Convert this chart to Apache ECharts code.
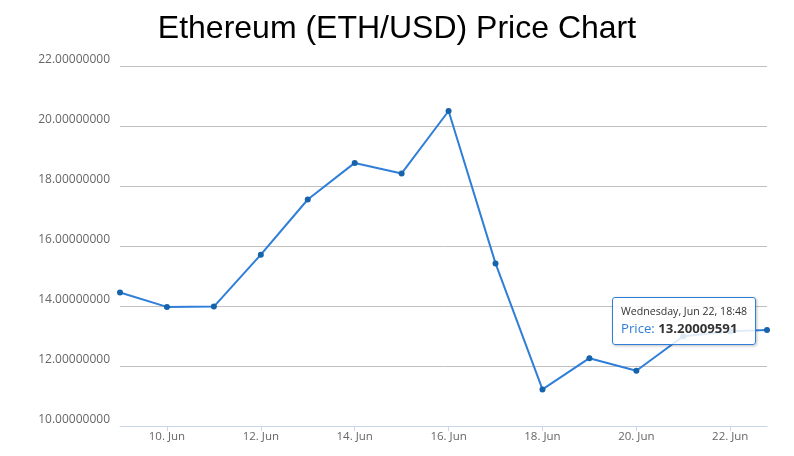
<!DOCTYPE html>
<html>
<head>
<meta charset="utf-8">
<script src="https://cdn.jsdelivr.net/npm/echarts@6/dist/echarts.min.js"></script>
<style>
html,body{margin:0;padding:0;background:#fff;}
#chart{width:794px;height:456px;}
</style>
</head>
<body>
<div id="chart"></div>
<script>
var titleText = 'Ethereum (ETH/USD) Price Chart';
var seriesName = 'Price';
var dates = ['2016-06-09T00:00:00Z','2016-06-10T00:00:00Z','2016-06-11T00:00:00Z','2016-06-12T00:00:00Z',
  '2016-06-13T00:00:00Z','2016-06-14T00:00:00Z','2016-06-15T00:00:00Z','2016-06-16T00:00:00Z',
  '2016-06-17T00:00:00Z','2016-06-18T00:00:00Z','2016-06-19T00:00:00Z','2016-06-20T00:00:00Z',
  '2016-06-21T00:00:00Z','2016-06-22T00:00:00Z','2016-06-22T18:48:00Z'];
var prices = [14.45, 13.97, 13.98, 15.71, 17.55, 18.77, 18.42, 20.5, 15.42, 11.22, 12.26, 11.84, 12.99, 13.16, 13.20009591];
var tickDates = ['2016-06-10T00:00:00Z','2016-06-12T00:00:00Z','2016-06-14T00:00:00Z','2016-06-16T00:00:00Z',
  '2016-06-18T00:00:00Z','2016-06-20T00:00:00Z','2016-06-22T00:00:00Z'];
var tickLabels = ['10. Jun','12. Jun','14. Jun','16. Jun','18. Jun','20. Jun','22. Jun'];
var yMin = 10, yMax = 22, yStep = 2;

var dayNames = ['Sunday','Monday','Tuesday','Wednesday','Thursday','Friday','Saturday'];
var monNames = ['Jan','Feb','Mar','Apr','May','Jun','Jul','Aug','Sep','Oct','Nov','Dec'];
function pad(n){return (n<10?'0':'')+n;}

var tickTs = tickDates.map(function(d){return Date.parse(d);});
var data = dates.map(function(d,i){return [Date.parse(d), prices[i]];});

var chart = echarts.init(document.getElementById('chart'));
chart.setOption({
  animation: false,
  backgroundColor: '#ffffff',
  title: {
    text: titleText,
    left: 'center',
    top: 8,
    textStyle: {fontFamily: 'Liberation Sans, Arial, sans-serif', fontSize: 32, fontWeight: 'normal', color: '#000'}
  },
  grid: {left: 120, right: 27, top: 66, bottom: 30, containLabel: false},
  tooltip: {
    trigger: 'item',
    alwaysShowContent: true,
    transitionDuration: 0,
    backgroundColor: 'rgba(255,255,255,0.85)',
    borderColor: '#2f7ed8',
    borderWidth: 1,
    borderRadius: 3,
    padding: [6, 8],
    extraCssText: 'box-shadow: 1px 1px 3px rgba(0,0,0,0.25);',
    position: function(){ return [612, 297]; },
    formatter: function(p){
      var d = new Date(p.value[0]);
      var head = dayNames[d.getUTCDay()] + ', ' + monNames[d.getUTCMonth()] + ' ' + d.getUTCDate() + ', ' + pad(d.getUTCHours()) + ':' + pad(d.getUTCMinutes());
      return '<div style="font-family:Open Sans,sans-serif;font-size:10.6px;color:#333;line-height:15px">' + head + '</div>' +
        '<div style="font-family:Open Sans,sans-serif;font-size:13.2px;line-height:19px;color:#333"><span style="color:#2f7ed8">' + p.seriesName + ':</span> <b>' + p.value[1].toFixed(8) + '</b></div>';
    }
  },
  xAxis: {
    type: 'value',
    min: data[0][0],
    max: data[data.length-1][0],
    axisLine: {show: true, lineStyle: {color: '#ccd6eb', width: 1}},
    axisTick: {show: true, customValues: tickTs, length: 5, lineStyle: {color: '#ccd6eb'}},
    axisLabel: {
      customValues: tickTs,
      color: '#666',
      fontSize: 11.5,
      fontFamily: 'Open Sans, sans-serif',
      margin: 5,
      formatter: function(v){ var i = tickTs.indexOf(v); return i >= 0 ? tickLabels[i] : ''; }
    },
    splitLine: {show: false}
  },
  yAxis: {
    type: 'value',
    min: yMin, max: yMax, interval: yStep,
    axisLine: {show: false},
    axisTick: {show: false},
    axisLabel: {
      color: '#666', fontSize: 12, fontFamily: 'Open Sans, sans-serif', margin: 10,
      verticalAlign: 'bottom', lineHeight: 12,
      formatter: function(v){ return v.toFixed(8); }
    },
    splitLine: {lineStyle: {color: '#c0c0c0', width: 1}}
  },
  series: [{
    name: seriesName,
    type: 'line',
    data: data,
    symbol: 'circle',
    symbolSize: 6,
    showSymbol: true,
    lineStyle: {color: '#2f7ed8', width: 2},
    itemStyle: {color: '#1663ab'},
    emphasis: {scale: false}
  }]
});
chart.dispatchAction({type: 'showTip', seriesIndex: 0, dataIndex: data.length - 1});
</script>
</body>
</html>
